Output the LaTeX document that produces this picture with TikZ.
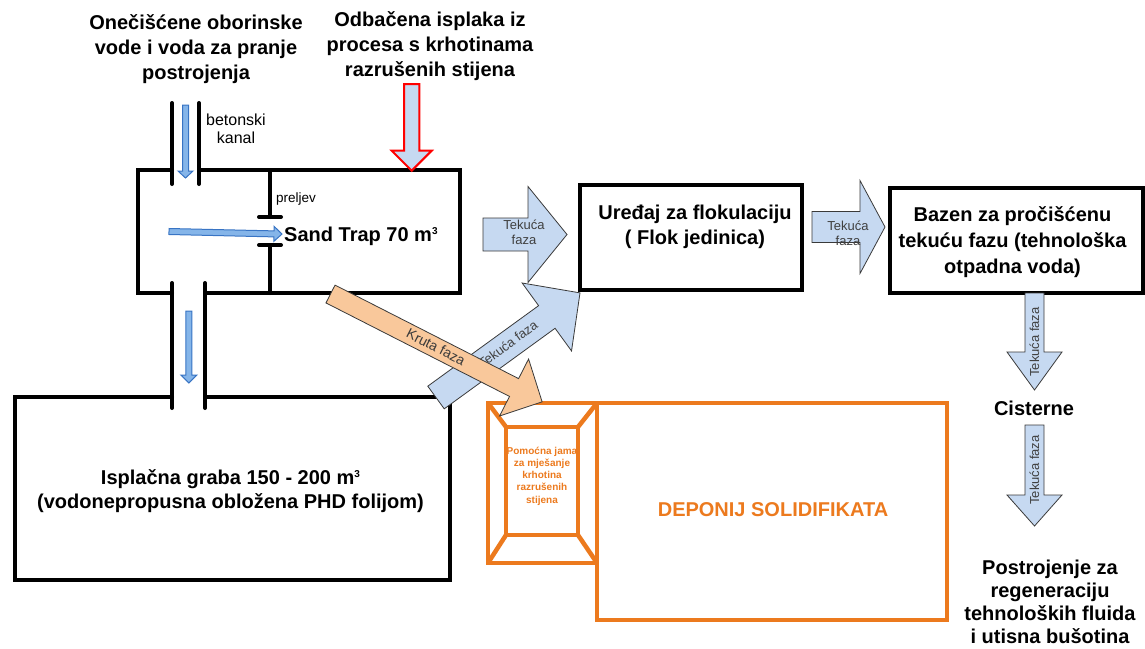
\documentclass[tikz,border=0pt]{standalone}
\usepackage{fontspec}
\setmainfont{Liberation Sans}
\definecolor{lblue}{HTML}{C6D9F1}
\definecolor{agray}{HTML}{3A3A3A}
\definecolor{sbluefill}{HTML}{85B5E9}
\definecolor{sblueline}{HTML}{3874C4}
\definecolor{myorange}{HTML}{EC7A1E}
\definecolor{krutafill}{HTML}{F9C89B}
\definecolor{labgray}{HTML}{404040}
\newcommand{\blkarrow}[8]{%
  \begin{scope}[shift={(#2,#3)},rotate=#4]
    \draw[#1] (0,-#6) -- ({#5-#8},-#6) -- ({#5-#8},-#7) -- (#5,0) -- ({#5-#8},#7) -- ({#5-#8},#6) -- (0,#6) -- cycle;
  \end{scope}}
\newcommand{\cubed}{\raisebox{7pt}{\fontsize{10}{10}\selectfont 3}}
\begin{document}
\begin{tikzpicture}[x=1pt,y=-1pt,
  wall/.style={line width=4pt, line cap=round, line join=miter},
  owall/.style={draw=myorange, line width=4.5pt, line join=miter},
  barrow/.style={fill=lblue, draw=agray, line width=0.8pt, line join=miter},
  redarrow/.style={fill=lblue, draw=red, line width=2pt, line join=miter},
  sarrow/.style={fill=sbluefill, draw=sblueline, line width=1pt, line join=miter},
  karrow/.style={fill=krutafill, draw=agray, line width=0.8pt, line join=miter},
  big/.style={font={\bfseries\fontsize{20}{25}\selectfont}, align=center, inner sep=0pt},
  small/.style={font={\fontsize{16}{18}\selectfont}, align=center, inner sep=0pt},
  alabel/.style={font={\fontsize{13}{15}\selectfont}, text=labgray, align=center, inner sep=0pt},
  klabel/.style={font={\fontsize{14}{16}\selectfont}, text=agray, align=center, inner sep=0pt},
  otext/.style={font={\bfseries\fontsize{10}{12.25}\selectfont}, text=myorange, align=center, inner sep=0pt}
]
\useasboundingbox (0,0) rectangle (1145,648);

% titles
\node[big] (title1) at (196,49) {Onečišćene oborinske\\vode i voda za pranje\\postrojenja};
\node[big] (title2) at (430,46) {Odbačena isplaka iz\\procesa s krhotinama\\razrušenih stijena};

% sand trap
\draw[wall] (172,170) -- (138,170) -- (138,293) -- (172,293);
\draw[wall] (199,170) -- (460,170) -- (460,293) -- (205,293);
\draw[wall] (172,103) -- (172,184);
\draw[wall] (199,103) -- (199,184);
\draw[wall] (270,170) -- (270,217) (259,217) -- (281,217);
\draw[wall] (259,245) -- (281,245) (270,245) -- (270,293);
\node[small, anchor=center] (beton) at (236,129) {betonski\\kanal};
\node[font={\fontsize{13.5}{15}\selectfont}, anchor=west, inner sep=0pt] (prelj) at (276,199) {preljev};
\node[font={\bfseries\fontsize{20}{25}\selectfont}, anchor=base west, inner sep=0pt] (sand) at (284,241) {Sand Trap 70 m\cubed};

% isplacna graba
\draw[wall] (172,397) -- (15,397) -- (15,580) -- (450,580) -- (450,397) -- (205,397);
\draw[wall] (172,283) -- (172,408);
\draw[wall] (205,283) -- (205,408);
\node[big, font={\bfseries\fontsize{20}{24}\selectfont}] (grab) at (230.5,491) {Isplačna graba 150 - 200 m\cubed\\(vodonepropusna obložena PHD folijom)};

% flok
\draw[wall] (580,185) rectangle (802,290);
\node[big] (flok) at (695,227) {Uređaj za flokulaciju\\( Flok jedinica)};

% bazen
\draw[wall] (890,188) rectangle (1143,293);
\node[big, font={\bfseries\fontsize{20}{26}\selectfont}] (bazen) at (1012.5,242) {Bazen za pročišćenu\\tekuću fazu (tehnološka\\otpadna voda)};

% orange pit and deponij
\draw[owall] (488,403) rectangle (597,563);
\draw[owall] (506,427) rectangle (578,535);
\draw[owall] (488,403) -- (506,427) (597,403) -- (578,427) (488,563) -- (506,535) (597,563) -- (578,535);
\draw[owall] (597,403) rectangle (947,620);
\node[otext] (jama) at (542,476) {Pomoćna jama\\za mješanje\\krhotina\\razrušenih\\stijena};
\node[big, text=myorange] (dep) at (773,510) {DEPONIJ SOLIDIFIKATA};

% right column
\node[big] (cist) at (1034,408) {Cisterne};
\node[big, font={\bfseries\fontsize{20}{23}\selectfont}] (postr) at (1050,602) {Postrojenje za\\regeneraciju\\tehnoloških fluida\\i utisna bušotina};

% block arrows
\blkarrow{barrow}{483}{234.5}{0}{84}{16.5}{48}{39}
\blkarrow{barrow}{812}{227}{0}{73}{15.5}{46.5}{25}
\blkarrow{barrow}{436}{397.5}{36}{178}{14}{42}{41}
\blkarrow{barrow}{1034.5}{293}{-90}{97}{9.5}{27.5}{38}
\blkarrow{barrow}{1034.5}{425}{-90}{101}{9.5}{27.5}{31}
\blkarrow{redarrow}{411.7}{84}{-90}{86.7}{7.7}{20}{20}
\blkarrow{sarrow}{185.5}{105}{-90}{73}{3}{7.5}{7}
\blkarrow{sarrow}{188.8}{311}{-90}{72}{3}{8}{8}
\blkarrow{sarrow}{169}{231.5}{-1.3}{113}{3}{7.5}{8}

\node[alabel] (t1) at (524,232) {Tekuća\\faza};
\node[alabel] (t2) at (848,233) {Tekuća\\faza};
\node[alabel, rotate=36] (t3) at (508,344) {Tekuća faza};
\node[alabel, rotate=90] (t4) at (1034.5,342) {Tekuća faza};
\node[alabel, rotate=90] (t5) at (1034.5,470) {Tekuća faza};

\blkarrow{karrow}{330.5}{294}{-27}{237.5}{10}{32}{31.5}
\node[klabel, rotate=-27] (t6) at (436,347) {Kruta faza};
\end{tikzpicture}
\end{document}
